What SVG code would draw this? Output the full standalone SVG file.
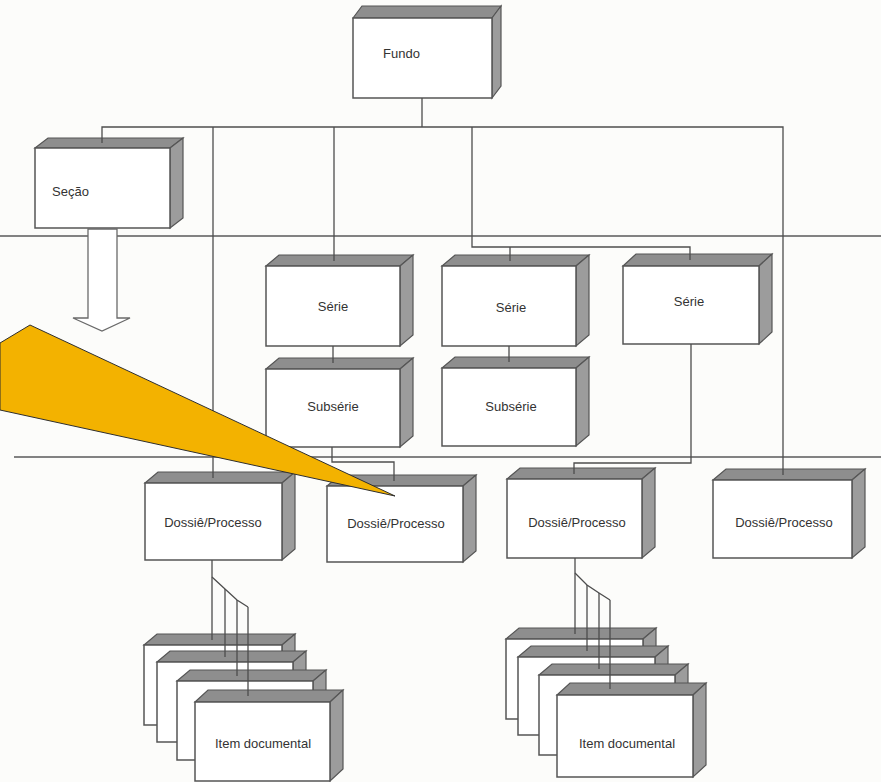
<svg xmlns="http://www.w3.org/2000/svg" width="881" height="782" viewBox="0 0 881 782">
  <style>
    .front { fill: #ffffff; stroke: #555555; stroke-width: 1.5; }
    .top { fill: #8e8e8e; stroke: #555555; stroke-width: 1.2; }
    .side { fill: #9c9c9c; stroke: #555555; stroke-width: 1.2; }
    .lbl { font-family: "Liberation Sans", Arial, sans-serif; font-size: 13px; fill: #333333; }
    .mid { text-anchor: middle; }
    .wire { fill: none; stroke: #4d4d4d; stroke-width: 1.3; }
    .rule { fill: none; stroke: #5a5a5a; stroke-width: 1.3; }
  </style>
  <defs>
    <!-- generic box with depth: front rect at (0,0) size 134x80 is drawn per node -->
  </defs>

  <rect x="0" y="0" width="881" height="782" fill="#fcfcfa"/>

  <!-- level separators -->
  <g id="rules">
    <line class="rule" x1="0" y1="236" x2="881" y2="236"/>
    <line class="rule" x1="14" y1="457" x2="881" y2="457"/>
  </g>

  <!-- nodes -->
  <g id="fundo">
    <polygon class="top" points="353,18 362,6 501,6 492,18"/>
    <polygon class="side" points="492,18 501,6 501,86 492,98"/>
    <rect class="front" x="353" y="18" width="139" height="80"/>
    <text class="lbl" x="383" y="58">Fundo</text>
  </g>

  <g id="secao">
    <polygon class="top" points="35,148 48,138 183,138 170,148"/>
    <polygon class="side" points="170,148 183,138 183,218 170,228"/>
    <rect class="front" x="35" y="148" width="135" height="80"/>
    <text class="lbl" x="52" y="196">Seção</text>
  </g>

  <g id="secao-arrow">
    <polygon points="88,229 117,229 117,318 130,318 102,331 73,318 88,318" fill="#ffffff" stroke="#6a6a6a" stroke-width="1.3"/>
  </g>

  <g id="serie-1">
    <polygon class="top" points="266,266 279,255 413,255 400,266"/>
    <polygon class="side" points="400,266 413,255 413,335 400,346"/>
    <rect class="front" x="266" y="266" width="134" height="80"/>
    <text class="lbl mid" x="333" y="311">Série</text>
  </g>

  <g id="subserie-1">
    <polygon class="top" points="266,369 279,358 413,358 400,369"/>
    <polygon class="side" points="400,369 413,358 413,436 400,447"/>
    <rect class="front" x="266" y="369" width="134" height="78"/>
    <text class="lbl mid" x="333" y="411">Subsérie</text>
  </g>

  <g id="serie-2">
    <polygon class="top" points="442,266 455,255 589,255 576,266"/>
    <polygon class="side" points="576,266 589,255 589,335 576,346"/>
    <rect class="front" x="442" y="266" width="134" height="80"/>
    <text class="lbl mid" x="511" y="312">Série</text>
  </g>

  <g id="subserie-2">
    <polygon class="top" points="442,368 455,357 589,357 576,368"/>
    <polygon class="side" points="576,368 589,357 589,435 576,446"/>
    <rect class="front" x="442" y="368" width="134" height="78"/>
    <text class="lbl mid" x="511" y="411">Subsérie</text>
  </g>

  <g id="serie-3">
    <polygon class="top" points="623,266 636,254 772,254 759,266"/>
    <polygon class="side" points="759,266 772,254 772,332 759,344"/>
    <rect class="front" x="623" y="266" width="136" height="78"/>
    <text class="lbl mid" x="689" y="306">Série</text>
  </g>

  <g id="dossie-1">
    <polygon class="top" points="145,483 158,472 295,472 282,483"/>
    <polygon class="side" points="282,483 295,472 295,549 282,560"/>
    <rect class="front" x="145" y="483" width="137" height="77"/>
    <text class="lbl mid" x="213" y="527">Dossiê/Processo</text>
  </g>

  <g id="dossie-2">
    <polygon class="top" points="327,486 340,475 476,475 463,486"/>
    <polygon class="side" points="463,486 476,475 476,551 463,562"/>
    <rect class="front" x="327" y="486" width="136" height="76"/>
    <text class="lbl mid" x="396" y="528">Dossiê/Processo</text>
  </g>

  <g id="dossie-3">
    <polygon class="top" points="507,479 520,468 655,468 642,479"/>
    <polygon class="side" points="642,479 655,468 655,547 642,558"/>
    <rect class="front" x="507" y="479" width="135" height="79"/>
    <text class="lbl mid" x="577" y="527">Dossiê/Processo</text>
  </g>

  <g id="dossie-4">
    <polygon class="top" points="713,480 726,469 865,469 852,480"/>
    <polygon class="side" points="852,480 865,469 865,547 852,558"/>
    <rect class="front" x="713" y="480" width="139" height="78"/>
    <text class="lbl mid" x="784" y="527">Dossiê/Processo</text>
  </g>

  <!-- left stack of documentary items -->
  <g id="item-left-1">
    <polygon class="top" points="144,645 157,634 295,634 282,645"/>
    <polygon class="side" points="282,645 295,634 295,714 282,725"/>
    <rect class="front" x="144" y="645" width="138" height="80"/>
  </g>
  <g id="item-left-2">
    <polygon class="top" points="157,662 170,651 306,651 293,662"/>
    <polygon class="side" points="293,662 306,651 306,731 293,742"/>
    <rect class="front" x="157" y="662" width="136" height="80"/>
  </g>
  <g id="item-left-3">
    <polygon class="top" points="177,681 190,670 326,670 313,681"/>
    <polygon class="side" points="313,681 326,670 326,749 313,760"/>
    <rect class="front" x="177" y="681" width="136" height="79"/>
  </g>
  <g id="item-left-4">
    <polygon class="top" points="195,702 208,690 343,690 330,702"/>
    <polygon class="side" points="330,702 343,690 343,769 330,781"/>
    <rect class="front" x="195" y="702" width="135" height="79"/>
    <text class="lbl mid" x="263" y="748">Item documental</text>
  </g>

  <!-- right stack of documentary items -->
  <g id="item-right-1">
    <polygon class="top" points="506,639 519,628 656,628 643,639"/>
    <polygon class="side" points="643,639 656,628 656,708 643,719"/>
    <rect class="front" x="506" y="639" width="137" height="80"/>
  </g>
  <g id="item-right-2">
    <polygon class="top" points="518,657 531,646 668,646 655,657"/>
    <polygon class="side" points="655,657 668,646 668,724 655,735"/>
    <rect class="front" x="518" y="657" width="137" height="78"/>
  </g>
  <g id="item-right-3">
    <polygon class="top" points="539,675 552,664 688,664 675,675"/>
    <polygon class="side" points="675,675 688,664 688,744 675,755"/>
    <rect class="front" x="539" y="675" width="136" height="80"/>
  </g>
  <g id="item-right-4">
    <polygon class="top" points="557,695 570,683 706,683 693,695"/>
    <polygon class="side" points="693,695 706,683 706,765 693,777"/>
    <rect class="front" x="557" y="695" width="136" height="82"/>
    <text class="lbl mid" x="627" y="748">Item documental</text>
  </g>

  <!-- connectors -->
  <g id="connectors">
    <polyline class="wire" points="422,98 422,127"/>
    <polyline class="wire" points="102,143 102,127 783,127 783,475"/>
    <polyline class="wire" points="213,127 213,478"/>
    <polyline class="wire" points="334,127 334,261"/>
    <polyline class="wire" points="472,127 472,247 690,247 690,260"/>
    <polyline class="wire" points="510,247 510,261"/>
    <polyline class="wire" points="333,346 333,363"/>
    <polyline class="wire" points="509,346 509,362"/>
    <polyline class="wire" points="332,447 332,462 394,462 394,481"/>
    <polyline class="wire" points="691,344 691,463 574,463 574,474"/>
    <!-- item fan-out, left -->
    <polyline class="wire" points="212,560 212,640"/>
    <polyline class="wire" points="212,577 225,589 237,600 248,607"/>
    <polyline class="wire" points="225,589 225,657"/>
    <polyline class="wire" points="237,600 237,676"/>
    <polyline class="wire" points="248,607 248,696"/>
    <!-- item fan-out, right -->
    <polyline class="wire" points="575,558 575,634"/>
    <polyline class="wire" points="575,573 587,585 599,593 610,600"/>
    <polyline class="wire" points="587,585 587,651"/>
    <polyline class="wire" points="599,593 599,669"/>
    <polyline class="wire" points="610,600 610,689"/>
  </g>

  <!-- highlight callout pointing at the second dossier -->
  <g id="callout">
    <polygon points="0,343 30,325 395,496 0,410" fill="#f3b200" stroke="#2e2e2e" stroke-width="1"/>
  </g>
</svg>
